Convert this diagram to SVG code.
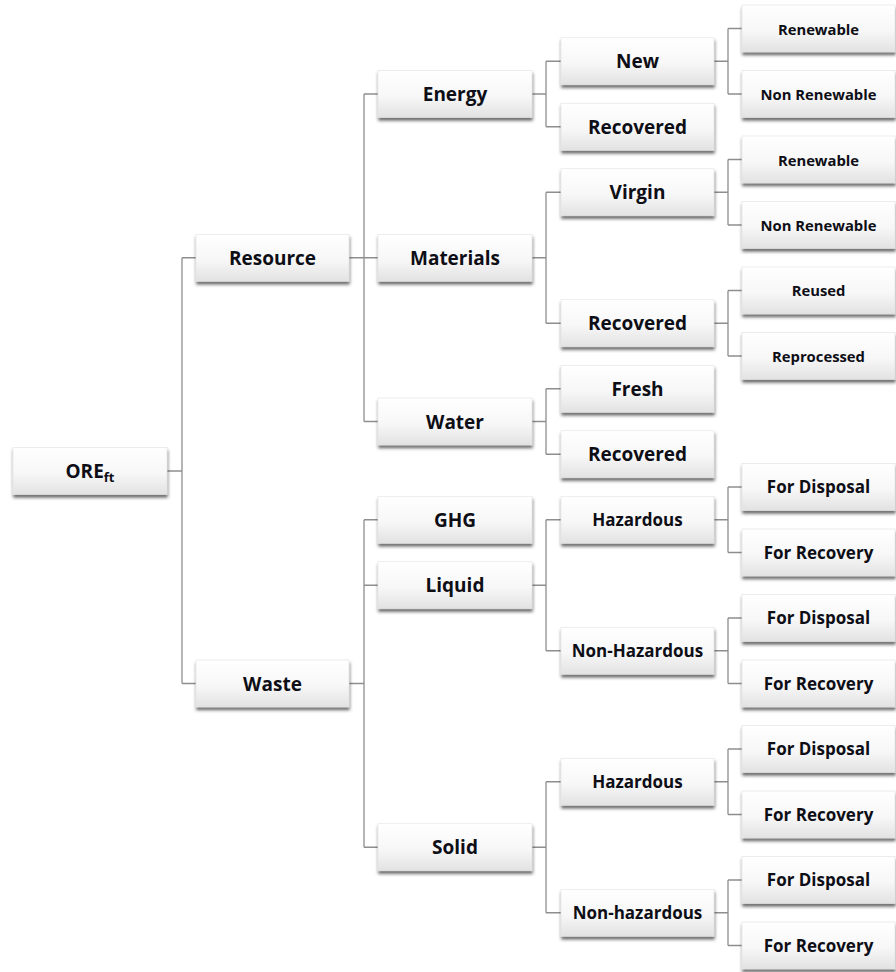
<svg xmlns="http://www.w3.org/2000/svg" width="896" height="972" viewBox="0 0 896 972">
<style>
.box{fill:url(#g);stroke:#e2e2e2;stroke-width:0.6;filter:url(#sh)}
.t{font-family:"Open Sans",Lato,"Liberation Sans",sans-serif;font-weight:bold;font-size:19px;fill:#0e0e16;text-anchor:middle}
.m{font-size:17px}
.s{font-size:14.8px}
.c{fill:none;stroke:#8e8e8e;stroke-width:1.3}
</style>
<defs>
<linearGradient id="g" x1="0" y1="0" x2="0" y2="1">
<stop offset="0" stop-color="#ffffff"/>
<stop offset="0.55" stop-color="#f7f7f7"/>
<stop offset="1" stop-color="#e2e2e2"/>
</linearGradient>
<filter id="sh" x="-10%" y="-20%" width="120%" height="150%">
<feDropShadow dx="0.5" dy="3" stdDeviation="1.5" flood-color="#262626" flood-opacity="0.65"/>
</filter>
</defs>
<g id="connectors">
<path class="c" d="M167 471H182M182 257.75V683.5M182 257.75H196M182 683.5H196"/>
<path class="c" d="M349 257.75H378M364 94V421.5M364 94H378M364 421.5H378"/>
<path class="c" d="M349 683.5H364M364 519.75V847.25M364 519.75H378M364 585.25H378M364 847.25H378"/>
<path class="c" d="M532 94H546M546 61.25V126.75M546 61.25H561M546 126.75H561"/>
<path class="c" d="M532 257.75H546M546 192.25V323.25M546 192.25H561M546 323.25H561"/>
<path class="c" d="M532 421.5H546M546 388.75V454.25M546 388.75H561M546 454.25H561"/>
<path class="c" d="M532 585.25H546M546 519.75V650.75M546 519.75H561M546 650.75H561"/>
<path class="c" d="M532 847.25H546M546 781.75V912.75M546 781.75H561M546 912.75H561"/>
<path class="c" d="M714 61.25H728M728 28.5V94M728 28.5H742M728 94H742"/>
<path class="c" d="M714 192.25H728M728 159.5V225M728 159.5H742M728 225H742"/>
<path class="c" d="M714 323.25H728M728 290.5V356M728 290.5H742M728 356H742"/>
<path class="c" d="M714 519.75H728M728 487V552.5M728 487H742M728 552.5H742"/>
<path class="c" d="M714 650.75H728M728 618V683.5M728 618H742M728 683.5H742"/>
<path class="c" d="M714 781.75H728M728 749V814.5M728 749H742M728 814.5H742"/>
<path class="c" d="M714 912.75H728M728 880V945.5M728 880H742M728 945.5H742"/>
</g>
<g id="ore"><rect class="box" x="13" y="447.5" width="154" height="47"/><text class="t" x="90" y="478">ORE<tspan font-size="13" dy="4">ft</tspan></text></g>
<g id="resource"><rect class="box" x="196" y="234.25" width="153" height="47"/><text class="t" x="272.5" y="264.5">Resource</text></g>
<g id="waste"><rect class="box" x="196" y="660" width="153" height="47"/><text class="t" x="272.5" y="690.5">Waste</text></g>
<g id="energy"><rect class="box" x="378" y="70.5" width="154" height="47"/><text class="t" x="455" y="101">Energy</text></g>
<g id="materials"><rect class="box" x="378" y="234.25" width="154" height="47"/><text class="t" x="455" y="264.5">Materials</text></g>
<g id="water"><rect class="box" x="378" y="398" width="154" height="47"/><text class="t" x="455" y="428.5">Water</text></g>
<g id="ghg"><rect class="box" x="378" y="496.25" width="154" height="47"/><text class="t" x="455" y="526.5">GHG</text></g>
<g id="liquid"><rect class="box" x="378" y="561.75" width="154" height="47"/><text class="t" x="455" y="592">Liquid</text></g>
<g id="solid"><rect class="box" x="378" y="823.75" width="154" height="47"/><text class="t" x="455" y="854">Solid</text></g>
<g id="energy-new"><rect class="box" x="561" y="37.75" width="153" height="47"/><text class="t" x="637.5" y="68">New</text></g>
<g id="energy-recovered"><rect class="box" x="561" y="103.25" width="153" height="47"/><text class="t" x="637.5" y="133.5">Recovered</text></g>
<g id="materials-virgin"><rect class="box" x="561" y="168.75" width="153" height="47"/><text class="t" x="637.5" y="199">Virgin</text></g>
<g id="materials-recovered"><rect class="box" x="561" y="299.75" width="153" height="47"/><text class="t" x="637.5" y="330">Recovered</text></g>
<g id="water-fresh"><rect class="box" x="561" y="365.25" width="153" height="47"/><text class="t" x="637.5" y="395.5">Fresh</text></g>
<g id="water-recovered"><rect class="box" x="561" y="430.75" width="153" height="47"/><text class="t" x="637.5" y="461">Recovered</text></g>
<g id="liquid-hazardous"><rect class="box" x="561" y="496.25" width="153" height="47"/><text class="t m" x="637.5" y="526">Hazardous</text></g>
<g id="liquid-nonhazardous"><rect class="box" x="561" y="627.25" width="153" height="47"/><text class="t m" x="637.5" y="657">Non-Hazardous</text></g>
<g id="solid-hazardous"><rect class="box" x="561" y="758.25" width="153" height="47"/><text class="t m" x="637.5" y="788">Hazardous</text></g>
<g id="solid-nonhazardous"><rect class="box" x="561" y="889.25" width="153" height="47"/><text class="t m" x="637.5" y="919">Non-hazardous</text></g>
<g id="new-renewable"><rect class="box" x="742" y="5" width="153" height="47"/><text class="t s" x="818.5" y="34.5">Renewable</text></g>
<g id="new-nonrenewable"><rect class="box" x="742" y="70.5" width="153" height="47"/><text class="t s" x="818.5" y="100">Non Renewable</text></g>
<g id="virgin-renewable"><rect class="box" x="742" y="136" width="153" height="47"/><text class="t s" x="818.5" y="165.5">Renewable</text></g>
<g id="virgin-nonrenewable"><rect class="box" x="742" y="201.5" width="153" height="47"/><text class="t s" x="818.5" y="231">Non Renewable</text></g>
<g id="reused"><rect class="box" x="742" y="267" width="153" height="47"/><text class="t s" x="818.5" y="295.5">Reused</text></g>
<g id="reprocessed"><rect class="box" x="742" y="332.5" width="153" height="47"/><text class="t s" x="818.5" y="361.5">Reprocessed</text></g>
<g id="lh-disposal"><rect class="box" x="742" y="463.5" width="153" height="47"/><text class="t m" x="818.5" y="493">For Disposal</text></g>
<g id="lh-recovery"><rect class="box" x="742" y="529" width="153" height="47"/><text class="t m" x="818.5" y="559">For Recovery</text></g>
<g id="lnh-disposal"><rect class="box" x="742" y="594.5" width="153" height="47"/><text class="t m" x="818.5" y="624">For Disposal</text></g>
<g id="lnh-recovery"><rect class="box" x="742" y="660" width="153" height="47"/><text class="t m" x="818.5" y="690">For Recovery</text></g>
<g id="sh-disposal"><rect class="box" x="742" y="725.5" width="153" height="47"/><text class="t m" x="818.5" y="755">For Disposal</text></g>
<g id="sh-recovery"><rect class="box" x="742" y="791" width="153" height="47"/><text class="t m" x="818.5" y="821">For Recovery</text></g>
<g id="snh-disposal"><rect class="box" x="742" y="856.5" width="153" height="47"/><text class="t m" x="818.5" y="886">For Disposal</text></g>
<g id="snh-recovery"><rect class="box" x="742" y="922" width="153" height="47"/><text class="t m" x="818.5" y="952">For Recovery</text></g>
</svg>
